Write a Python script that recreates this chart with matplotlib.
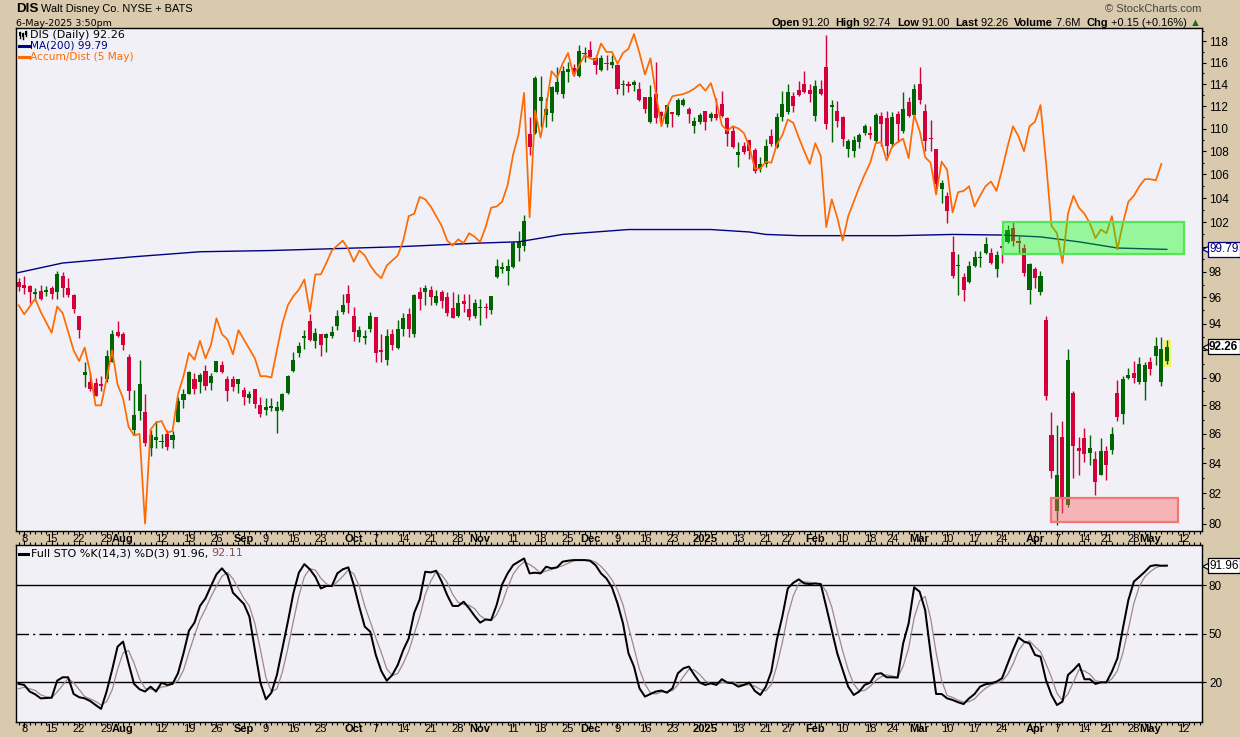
import matplotlib
matplotlib.use("Agg")
import matplotlib.pyplot as plt
from matplotlib.patches import Rectangle
from matplotlib.ticker import FixedLocator, NullFormatter, FuncFormatter
from matplotlib.transforms import blended_transform_factory

plt.rcParams['font.family'] = ['Liberation Sans', 'DejaVu Sans']

# ---- daily candles, 5-Jul-2024 .. 6-May-2025 (index = trading day) ----
opens = [
    97.2, 97.0, 96.9, 96.3, 96.5, 96.45, 96.7, 96.4, 97.7, 96.7,
    96.2, 94.6, 90.2, 89.7, 89.6, 89.5, 89.9, 91.1, 93.4, 93.2,
    91.5, 86.3, 87.6, 87.5, 85.0, 85.6, 85.45, 86.0, 85.6, 86.8,
    88.4, 88.8, 89.9, 89.7, 90.5, 89.6, 90.4, 90.9, 89.9, 89.9,
    89.5, 89.1, 88.5, 89.2, 88.0, 87.7, 87.85, 87.6, 87.7, 88.9,
    90.5, 91.8, 92.95, 94.2, 92.7, 93.2, 92.9, 93.1, 93.8, 94.9,
    96.3, 94.6, 93.0, 92.95, 93.6, 94.5, 92.0, 91.3, 93.2, 92.2,
    93.6, 94.7, 93.2, 96.4, 96.4, 96.6, 95.6, 96.4, 96.0, 95.2,
    94.6, 95.7, 95.1, 94.6, 95.15, 95.25, 95.0, 97.6, 98.2, 98.1,
    98.4, 99.9, 100.1, 109.5, 109.6, 112.5, 111.2, 111.4, 113.3, 113.1,
    115.1, 115.5, 114.8, 116.85, 117.2, 116.4, 115.3, 115.95, 115.8, 115.8,
    113.95, 114.0, 113.9, 113.6, 112.8, 110.6, 113.1, 111.5, 110.4, 111.5,
    111.2, 112.1, 111.7, 110.2, 110.6, 111.6, 110.9, 111.3, 112.2, 110.9,
    109.8, 107.7, 108.5, 109.0, 108.1, 106.5, 106.9, 109.3, 108.4, 111.0,
    111.5, 112.9, 113.5, 114.0, 113.5, 111.1, 113.6, 115.6, 111.9, 111.6,
    111.0, 108.2, 108.0, 108.8, 109.6, 109.6, 108.9, 111.1, 110.9, 108.6,
    111.3, 109.8, 112.4, 111.2, 114.0, 111.6, 109.15, 108.2, 104.8, 104.2,
    99.6, 98.45, 97.6, 97.2, 98.5, 99.1, 99.5, 99.5, 98.2, 100.1,
    100.4, 101.5, 100.5, 99.9, 96.6, 98.2, 96.4, 94.3, 85.9, 80.8,
    85.8, 81.2, 88.9, 85.0, 85.7, 84.7, 84.3, 83.2, 84.8, 84.9,
    88.9, 87.4, 90.0, 90.3, 89.7, 89.7, 91.1, 91.6, 89.7, 91.20,
]
highs = [
    97.5, 97.7, 97.0, 96.7, 97.0, 96.9, 96.9, 98.1, 98.0, 97.5,
    96.3, 94.6, 91.1, 90.3, 90.0, 90.1, 92.0, 93.5, 94.2, 93.4,
    91.7, 89.1, 91.3, 88.8, 86.3, 86.9, 86.0, 86.3, 86.2, 88.6,
    89.2, 90.5, 90.3, 90.3, 90.9, 90.3, 91.2, 91.2, 90.1, 90.1,
    89.9, 89.3, 89.0, 89.2, 88.6, 88.5, 88.5, 88.3, 88.9, 90.2,
    91.9, 92.6, 93.5, 94.7, 93.7, 93.2, 93.3, 93.8, 95.0, 96.3,
    97.0, 95.3, 93.8, 93.5, 94.9, 94.5, 93.2, 93.6, 93.6, 94.3,
    94.8, 95.2, 96.3, 96.8, 97.0, 96.9, 96.6, 96.6, 96.4, 96.4,
    96.3, 96.3, 96.3, 95.9, 95.9, 95.6, 96.1, 99.0, 98.8, 99.0,
    100.5, 101.3, 102.6, 111.0, 114.8, 114.8, 112.7, 113.8, 115.6, 115.7,
    116.1, 115.9, 117.7, 117.5, 118.0, 116.7, 116.7, 116.7, 116.7, 115.9,
    114.4, 114.3, 114.4, 114.2, 112.8, 113.9, 116.1, 111.6, 112.1, 111.5,
    112.7, 112.7, 111.9, 111.0, 111.4, 111.6, 111.5, 112.7, 113.4, 111.0,
    110.2, 108.8, 108.8, 109.0, 108.3, 107.5, 109.1, 110.0, 111.4, 113.4,
    114.0, 113.3, 114.3, 115.2, 114.0, 114.4, 114.4, 118.6, 112.6, 112.5,
    111.1, 109.1, 109.3, 109.6, 110.4, 110.2, 111.4, 111.5, 111.6, 111.5,
    111.6, 113.3, 112.8, 114.0, 115.6, 112.2, 110.8, 108.2, 105.5, 104.5,
    100.9, 99.4, 97.9, 98.9, 99.7, 99.7, 100.8, 99.9, 99.7, 100.8,
    101.8, 102.1, 100.9, 100.2, 98.7, 98.4, 98.1, 94.6, 87.5, 86.6,
    86.9, 92.1, 89.0, 85.8, 86.4, 85.9, 84.8, 85.7, 85.2, 86.5,
    89.8, 90.1, 90.7, 91.2, 91.5, 91.1, 91.5, 93.0, 93.0, 92.74,
]
lows = [
    96.5, 96.3, 95.6, 95.7, 95.8, 96.1, 95.9, 95.9, 96.0, 96.0,
    94.8, 92.9, 89.3, 89.0, 88.7, 89.0, 89.7, 91.1, 93.0, 92.0,
    88.4, 85.9, 87.0, 85.2, 84.5, 85.0, 85.0, 84.9, 85.0, 86.8,
    87.8, 88.8, 88.8, 88.9, 89.1, 89.1, 90.4, 90.3, 88.3, 89.0,
    88.9, 88.0, 88.2, 87.8, 87.2, 87.3, 87.6, 86.1, 87.6, 88.8,
    90.4, 91.5, 92.1, 92.7, 92.2, 91.6, 91.9, 92.9, 93.5, 94.7,
    94.8, 92.7, 92.6, 92.5, 93.4, 91.1, 91.1, 90.9, 92.0, 92.1,
    93.1, 93.0, 93.0, 95.0, 95.4, 95.4, 95.4, 95.2, 94.6, 94.4,
    94.5, 94.9, 94.3, 94.4, 93.9, 94.4, 94.7, 97.5, 97.9, 97.0,
    98.3, 98.9, 99.7, 107.7, 109.5, 110.1, 110.1, 110.7, 113.1, 112.7,
    114.2, 114.8, 114.7, 116.1, 116.5, 114.9, 115.2, 115.3, 115.5, 113.1,
    113.0, 113.3, 113.4, 112.5, 111.4, 110.5, 110.5, 110.4, 110.1, 110.1,
    111.1, 112.0, 110.5, 109.6, 110.4, 109.9, 110.7, 110.8, 111.0, 108.5,
    108.3, 106.6, 107.8, 107.3, 106.1, 106.2, 106.6, 108.5, 108.3, 110.7,
    111.3, 111.5, 112.9, 113.2, 112.4, 110.7, 113.0, 110.0, 108.8, 110.1,
    108.5, 107.5, 107.5, 108.3, 109.4, 109.1, 108.7, 108.5, 107.6, 108.4,
    108.8, 109.6, 111.0, 111.0, 112.2, 108.0, 108.0, 104.8, 103.6, 101.9,
    97.5, 96.2, 95.7, 97.1, 98.4, 98.4, 99.4, 98.6, 97.6, 98.7,
    100.3, 100.1, 99.4, 97.7, 95.5, 96.7, 96.2, 88.4, 83.0, 79.9,
    80.7, 81.1, 83.0, 83.2, 84.1, 83.9, 81.9, 83.2, 82.9, 84.6,
    86.9, 86.7, 89.9, 89.6, 89.5, 88.4, 90.2, 90.9, 89.4, 91.00,
]
closes = [
    96.8, 96.7, 96.4, 96.4, 95.9, 96.5, 96.3, 97.8, 96.7, 96.2,
    95.1, 93.5, 90.4, 89.2, 88.7, 89.4, 91.6, 93.2, 93.1, 92.4,
    89.0, 87.3, 89.5, 85.4, 85.9, 85.8, 85.5, 85.1, 85.9, 88.3,
    88.8, 90.4, 89.2, 90.2, 89.4, 90.1, 91.2, 90.4, 89.0, 89.3,
    89.9, 88.6, 88.8, 88.1, 87.4, 87.9, 87.9, 87.9, 88.8, 90.1,
    91.3, 92.3, 93.0, 92.8, 93.3, 92.4, 93.2, 93.4, 94.6, 95.4,
    95.6, 93.4, 93.5, 93.0, 94.6, 91.8, 91.9, 93.1, 92.4, 93.6,
    94.4, 93.6, 96.2, 95.9, 96.7, 96.0, 96.1, 95.7, 94.8, 94.4,
    95.6, 95.5, 94.5, 95.6, 95.2, 95.2, 96.1, 98.5, 98.4, 98.5,
    100.3, 100.4, 102.1, 108.4, 114.6, 112.8, 111.7, 113.7, 114.2, 115.2,
    115.4, 114.9, 117.1, 116.9, 116.5, 115.8, 116.4, 115.9, 116.1, 113.6,
    114.0, 113.8, 114.2, 112.6, 111.7, 112.8, 110.9, 111.1, 112.1, 111.3,
    112.6, 112.6, 111.3, 110.7, 111.2, 110.6, 111.3, 110.9, 111.1, 109.5,
    108.4, 107.9, 107.9, 108.0, 106.3, 106.9, 108.5, 108.6, 111.0, 112.2,
    113.3, 112.0, 113.0, 113.3, 113.1, 113.8, 113.1, 110.4, 112.1, 110.7,
    109.1, 108.9, 109.0, 109.4, 110.2, 109.4, 111.2, 110.4, 108.5, 111.0,
    110.4, 111.7, 111.1, 113.6, 112.6, 108.9, 109.1, 105.2, 105.3, 102.9,
    97.7, 98.5, 96.6, 98.5, 99.2, 99.2, 100.2, 98.7, 99.3, 99.9,
    101.4, 100.5, 100.3, 97.9, 98.6, 97.5, 97.7, 88.7, 83.5, 83.2,
    81.6, 91.3, 85.2, 84.8, 84.6, 85.0, 82.7, 84.8, 83.9, 86.0,
    87.2, 89.9, 90.2, 90.0, 91.0, 90.9, 90.6, 92.3, 92.11, 92.26,
]

# 200-day moving average, read at points along the line
ma_idx = [-0.5, 8, 21, 33, 46, 69, 84, 91, 99, 111, 126, 133, 136, 142, 160, 170, 179, 186, 193, 200, 209]
ma_val = [97.9, 98.7, 99.2, 99.6, 99.7, 100.0, 100.3, 100.4, 101.0, 101.4, 101.4, 101.2, 101.0, 100.9,
          100.9, 101.0, 100.95, 100.8, 100.4, 99.9, 99.79]

# Accumulation/Distribution overlay (read in price-axis units)
ad_idx = [0, 1, 3, 4, 6, 7, 8] + list(range(10, 209))
ad_val = [
    95.4, 94.7, 95.9, 94.9, 93.3, 95.3, 94.8,
    92.0, 91.2, 92.2, 90.4, 88.0, 88.0, 89.9, 92.0, 89.5, 88.5,
    86.5, 85.9, 86.0, 80.0, 86.3, 86.8, 86.9, 86.1, 86.2, 88.8,
    90.1, 91.8, 91.3, 92.7, 91.4, 92.4, 94.4, 93.2, 92.8, 91.7,
    93.5, 92.8, 92.1, 91.4, 90.1, 90.1, 90.0, 92.0, 94.0, 95.4,
    96.1, 96.6, 97.4, 94.9, 97.8, 97.8, 98.7, 99.7, 100.1, 100.5,
    99.8, 98.8, 99.7, 99.3, 98.5, 97.9, 97.5, 98.5, 98.9, 99.3,
    100.5, 102.5, 102.7, 104.1, 103.9, 103.3, 102.5, 101.7, 100.5, 100.1,
    100.6, 100.3, 101.1, 100.8, 100.4, 101.6, 103.2, 103.3, 103.7, 105.1,
    107.7, 109.5, 113.2, 102.4, 111.6, 109.2, 111.9, 115.2, 114.6, 115.9,
    116.9, 114.8, 115.7, 116.7, 116.4, 116.2, 117.8, 117.0, 117.0, 115.9,
    116.9, 117.3, 118.7, 116.9, 114.9, 116.4, 113.1, 110.2, 111.9, 112.9,
    113.0, 113.1, 113.3, 113.6, 114.0, 113.4, 114.1, 112.4, 110.3, 109.8,
    110.2, 110.0, 109.6, 108.4, 106.5, 106.5, 107.1, 107.0, 108.6, 109.4,
    110.8, 110.5, 109.2, 108.0, 106.9, 108.7, 107.6, 101.6, 103.9, 102.4,
    100.5, 102.5, 103.7, 104.9, 106.0, 107.0, 108.7, 108.8, 107.2, 108.4,
    108.8, 109.1, 107.4, 111.2, 109.8, 107.5, 107.0, 104.3, 107.1, 106.4,
    102.8, 104.5, 104.6, 105.0, 103.3, 104.2, 105.0, 105.4, 104.6, 106.4,
    108.4, 110.2, 109.3, 108.0, 110.2, 110.6, 112.1, 107.1, 101.7, 101.1,
    98.7, 102.7, 104.2, 103.2, 102.7, 101.9, 100.7, 101.4, 101.1, 102.5,
    99.8, 101.9, 103.7, 104.2, 105.0, 105.6, 105.6, 105.5, 106.9,
]

# Full stochastics %K(14,3) and %D(3)
sto_k = [
    19.0, 18.4, 14.3, 12.6, 10.1, 10.3, 10.5, 21.0, 23.1, 23.1,
    12.8, 10.8, 10.1, 8.5, 6.0, 3.6, 14.3, 27.6, 42.0, 45.1,
    31.7, 19.0, 15.7, 14.3, 17.3, 14.3, 19.8, 18.4, 19.0, 25.6,
    37.9, 51.9, 56.8, 67.1, 71.8, 79.4, 86.6, 90.3, 86.2, 75.3,
    71.8, 68.3, 60.5, 39.9, 19.8, 9.5, 13.6, 24.5, 41.0, 57.4,
    74.9, 87.6, 92.9, 89.7, 85.1, 77.9, 79.4, 79.4, 87.2, 89.7,
    90.9, 80.0, 66.6, 54.3, 51.2, 36.9, 27.0, 21.0, 24.5, 30.7,
    39.9, 47.1, 62.9, 71.2, 88.2, 87.8, 88.8, 82.1, 73.8, 67.1,
    67.1, 69.7, 65.6, 60.9, 56.8, 58.8, 58.4, 67.7, 80.4, 87.2,
    92.3, 94.4, 96.4, 87.2, 87.6, 87.2, 91.3, 90.3, 90.9, 94.4,
    95.0, 95.4, 95.4, 95.4, 95.0, 92.3, 87.2, 84.0, 78.5, 68.7,
    56.4, 37.9, 29.7, 16.3, 11.2, 12.8, 14.3, 14.9, 13.6, 16.3,
    25.6, 28.6, 29.7, 24.5, 19.8, 18.4, 19.4, 18.4, 21.9, 19.8,
    19.4, 17.3, 18.4, 19.8, 14.7, 12.2, 17.3, 26.6, 46.1, 60.5,
    77.9, 81.4, 83.5, 81.0, 80.6, 81.0, 80.6, 66.6, 52.3, 37.9,
    27.6, 17.3, 12.2, 14.3, 18.4, 19.8, 25.1, 25.6, 23.1, 23.1,
    22.9, 44.0, 56.4, 78.6, 75.9, 64.6, 37.9, 12.8, 12.8, 10.1,
    9.1, 7.7, 6.6, 10.1, 12.8, 17.3, 18.8, 19.4, 20.4, 22.5,
    31.3, 39.9, 47.7, 45.1, 44.0, 36.9, 35.8, 21.4, 12.2, 6.0,
    8.1, 24.5, 27.6, 31.3, 21.9, 21.9, 19.0, 20.0, 20.0, 26.6,
    34.8, 53.3, 70.8, 82.1, 85.1, 88.2, 91.7, 92.3, 91.9, 91.96,
]
sto_d = [
    16.0, 17.0, 16.0, 15.0, 12.3, 11.1, 10.4, 14.0, 18.2, 22.4,
    19.7, 15.6, 11.2, 9.8, 8.2, 6.0, 8.0, 15.2, 28.0, 38.2,
    39.6, 31.9, 22.1, 16.3, 15.8, 15.3, 17.1, 17.5, 19.1, 21.0,
    27.5, 38.5, 48.9, 58.6, 65.2, 72.8, 79.3, 85.4, 87.7, 83.9,
    77.8, 71.8, 66.9, 56.2, 40.1, 23.1, 14.3, 15.9, 26.4, 41.0,
    57.8, 73.3, 85.1, 90.1, 89.2, 84.2, 80.8, 78.9, 82.0, 85.4,
    89.3, 86.9, 79.2, 67.0, 57.4, 47.5, 38.4, 28.3, 24.2, 25.4,
    31.7, 39.2, 50.0, 60.4, 74.1, 82.4, 88.3, 86.2, 81.6, 74.3,
    69.3, 68.0, 67.5, 65.4, 61.1, 58.8, 58.0, 61.6, 68.8, 78.4,
    86.6, 91.3, 94.4, 92.7, 90.4, 87.3, 88.7, 89.6, 90.8, 91.9,
    93.4, 94.9, 95.3, 95.4, 95.3, 94.2, 91.5, 87.8, 83.2, 77.1,
    67.9, 54.3, 41.3, 28.0, 19.1, 13.4, 12.8, 14.0, 14.3, 14.9,
    18.5, 23.5, 28.0, 27.6, 24.7, 20.9, 19.2, 18.7, 19.9, 20.0,
    20.4, 18.8, 18.4, 18.5, 17.6, 15.6, 14.7, 18.7, 30.0, 44.4,
    61.5, 73.3, 80.9, 82.0, 81.7, 80.9, 80.7, 76.1, 66.5, 52.3,
    39.3, 27.6, 19.0, 14.6, 15.0, 17.5, 21.1, 23.5, 24.6, 23.9,
    23.0, 30.0, 41.1, 59.7, 70.3, 73.0, 59.5, 38.4, 21.2, 11.9,
    10.7, 9.0, 7.8, 8.1, 9.8, 13.4, 16.3, 18.5, 19.5, 20.8,
    24.7, 31.2, 39.6, 44.2, 45.6, 42.0, 38.9, 31.4, 23.1, 13.2,
    8.8, 12.9, 20.1, 27.8, 27.0, 25.0, 21.0, 20.3, 19.7, 22.2,
    27.1, 38.2, 53.0, 68.7, 79.3, 85.1, 88.3, 90.7, 92.0, 92.11,
]

# date axis labels and the trading-day index they sit on
date_labels = ["8", "15", "22", "29", "Aug", "12", "19", "26", "Sep", "9", "16", "23", "Oct", "7", "14",
               "21", "28", "Nov", "11", "18", "25", "Dec", "9", "16", "23", "2025", "13", "21", "27",
               "Feb", "10", "18", "24", "Mar", "10", "17", "24", "Apr", "7", "14", "21", "28", "May", "12"]
date_pos = [1, 6, 11, 16, 19, 26, 31, 36, 41, 45, 50, 55, 61, 65, 70, 75, 80, 84, 90, 95, 100, 104,
            109, 114, 119, 125, 131, 136, 140, 145, 150, 155, 159, 164, 169, 174, 179, 185, 189, 194,
            198, 203, 206, 212]

price_ticks = list(range(80, 119, 2))
sto_levels = [20, 50, 80]

# annotation boxes drawn on the chart (index span, price span)
green_box = (179.1, 212.1, 99.45, 102.0)
red_box = (188.0, 211.1, 80.1, 81.7)

BG = '#d9c9ad'
PANEL = '#f0f0f6'
UP = '#006400'
DOWN = '#d4003a'
NAVY = '#000080'
ORANGE = '#ff6a00'

W, H = 1240, 737
fig = plt.figure(figsize=(W / 100, H / 100), dpi=100)
fig.patch.set_facecolor(BG)


def fx(px):
    return px / W


def fy(py):
    return 1 - py / H


ax = fig.add_axes([fx(16), fy(531), fx(1202) - fx(16), fy(28) - fy(531)])
ax_sto = fig.add_axes([fx(16), fy(721.7), fx(1202) - fx(16), fy(545) - fy(721.7)])

for a in (ax, ax_sto):
    a.set_facecolor(PANEL)
    for s in a.spines.values():
        s.set_color('black')
        s.set_linewidth(1.0)
    a.set_xlim(-0.49, 215.4)
    a.xaxis.set_major_locator(FixedLocator(date_pos))
    a.xaxis.set_minor_locator(FixedLocator(list(range(0, 216))))
    a.xaxis.set_major_formatter(NullFormatter())

# ---- candles ----
idx = list(range(len(closes)))
cols = [UP if c >= o else DOWN for o, c in zip(opens, closes)]
bottoms = [min(o, c) for o, c in zip(opens, closes)]
heights = [max(abs(c - o), 0.09) for o, c in zip(opens, closes)]

last = idx[-1]
ax.add_patch(Rectangle((last - 0.76, 90.8), 1.52, 92.75 - 90.8, facecolor='#f3f36c',
                       edgecolor='none', zorder=1.5))
ax.vlines(idx, lows, highs, colors=cols, linewidth=1.0, zorder=2)
ax.bar(idx, heights, bottom=bottoms, width=0.74, color=cols, linewidth=0, zorder=3)

ax.plot(ma_idx, ma_val, color=NAVY, linewidth=1.0, zorder=4)
ax.plot(ad_idx, ad_val, color=ORANGE, linewidth=1.25, zorder=4)

for (x0, x1, y0, y1), fc, ec in [(green_box, (0.0, 1.0, 0.0, 0.37), (0.33, 0.9, 0.33)),
                                 (red_box, (1.0, 0.39, 0.39, 0.42), (0.94, 0.47, 0.47))]:
    ax.add_patch(Rectangle((x0, y0), x1 - x0, y1 - y0, facecolor=fc, edgecolor=ec,
                           linewidth=1.6, zorder=5))

ax.set_yscale('log')
ax.set_ylim(79.53, 119.28)
ax.yaxis.set_major_locator(FixedLocator(price_ticks))
ax.yaxis.set_major_formatter(FuncFormatter(lambda v, p: f"{v:.0f}"))
ax.yaxis.set_minor_locator(FixedLocator(list(range(80, 120))))
ax.yaxis.set_minor_formatter(NullFormatter())
ax.yaxis.tick_right()
ax.tick_params(axis='y', which='major', length=3, width=0.8, labelsize=8.5, pad=2)
ax.tick_params(axis='y', which='minor', length=1.5, width=0.8)
ax.tick_params(axis='x', which='major', direction='out', length=3.5, width=0.8)
ax.tick_params(axis='x', which='minor', direction='out', length=2.5, width=0.8)

# ---- stochastics ----
ax_sto.plot(idx, sto_d, color='#a08888', linewidth=0.9, zorder=3)
ax_sto.plot(idx, sto_k, color='black', linewidth=1.45, zorder=4)
ax_sto.axhline(80, color='black', linewidth=1.0, zorder=2)
ax_sto.axhline(20, color='black', linewidth=1.0, zorder=2)
ax_sto.axhline(50, color='black', linewidth=1.0, linestyle=(0, (9, 3, 1.5, 3)), zorder=2)
ax_sto.set_ylim(-4.3, 104.7)
ax_sto.yaxis.set_major_locator(FixedLocator(sto_levels))
ax_sto.yaxis.set_major_formatter(FuncFormatter(lambda v, p: f"{v:.0f}"))
ax_sto.yaxis.tick_right()
ax_sto.tick_params(axis='y', length=3, width=0.8, labelsize=8.5, pad=2)
ax_sto.tick_params(axis='x', which='both', top=True, bottom=True, direction='out', width=0.8)
ax_sto.tick_params(axis='x', which='major', length=3.5)
ax_sto.tick_params(axis='x', which='minor', length=2.5)

# ---- date labels (between the panels and below the bottom one) ----
for a, ypix in ((ax, 538.5), (ax_sto, 729.5)):
    tr = blended_transform_factory(a.transData, fig.transFigure)
    for lab, pos in zip(date_labels, date_pos):
        bold = not lab.isdigit() or lab == "2025"
        a.text(pos, fy(ypix), lab, transform=tr, ha='center', va='center', fontsize=8,
               fontweight='bold' if bold else 'normal', clip_on=False)

# ---- value tags on the right axis ----
def tag(a, val, txt, color, bold=False):
    ytr = a.get_yaxis_transform()
    a.plot([1.0035], [val], marker='<', markersize=6, markerfacecolor='white',
           markeredgecolor=color, markeredgewidth=0.9, transform=ytr, clip_on=False, zorder=10)
    a.text(1.006, val, txt, transform=ytr, ha='left', va='center', fontsize=8.5, color=color,
           fontweight='bold' if bold else 'normal', clip_on=False, zorder=11,
           bbox=dict(boxstyle='square,pad=0.12', facecolor='white', edgecolor=color, linewidth=0.9))


tag(ax, 99.79, "99.79", NAVY)
tag(ax, closes[-1], f"{closes[-1]:.2f}", 'black', bold=True)
tag(ax_sto, sto_k[-1], f"{sto_k[-1]:.2f}", 'black')

# ---- header ----
renderer = fig.canvas.get_renderer()


def run(x, y, pieces, size=8, family=None, align='left'):
    texts = []
    for s, weight, color in pieces:
        kw = dict(fontsize=size, fontweight=weight, color=color, va='center', ha='left')
        if family:
            kw['family'] = family
        texts.append(fig.text(0, fy(y), s, **kw))
    widths = [t.get_window_extent(renderer=renderer).width for t in texts]
    if align == 'right':
        x -= sum(widths)
    for t, w in zip(texts, widths):
        t.set_x(fx(x))
        x += w
    return x


run(16, 9, [("DIS", 'bold', 'black')], size=9.6)
run(41, 9.5, [("Walt Disney Co. NYSE + BATS", 'normal', 'black')], size=7.9)
fig.text(fx(16), fy(23), "6-May-2025 3:50pm", fontsize=6.8, va='center', family=['DejaVu Sans'])
fig.text(fx(1201), fy(9.5), "\u00a9 StockCharts.com", fontsize=8, ha='right', va='center', color='#444444')
run(1201, 22.5, [("Open", 'bold', 'black'), (" 91.20  ", 'normal', 'black'),
                 ("High", 'bold', 'black'), (" 92.74  ", 'normal', 'black'),
                 ("Low", 'bold', 'black'), (" 91.00  ", 'normal', 'black'),
                 ("Last", 'bold', 'black'), (" 92.26  ", 'normal', 'black'),
                 ("Volume", 'bold', 'black'), (" 7.6M  ", 'normal', 'black'),
                 ("Chg", 'bold', 'black'), (" +0.15 (+0.16%) ", 'normal', 'black'),
                 ("\u25b2", 'normal', '#1a6a1a')], size=7.9, align='right')

# legend inside the price panel
for x0, h0, h1 in ((20, 31.5, 37.5), (23, 32.5, 38.5), (26, 31, 36)):
    fig.add_artist(plt.Line2D([fx(x0), fx(x0)], [fy(h1), fy(h0)], color='black', linewidth=1.0))
    fig.add_artist(Rectangle((fx(x0 - 1), fy(h1 - 1.5)), 2 / W, 3.5 / H, facecolor='black',
                             edgecolor='none', transform=fig.transFigure))
leg_font = ['DejaVu Sans']
fig.text(fx(30.5), fy(35), "DIS (Daily) 92.26", fontsize=8.0, va='center', family=leg_font)
for ypix, txt, col in ((46, "MA(200) 99.79", NAVY), (57, "Accum/Dist (5 May)", ORANGE)):
    fig.add_artist(plt.Line2D([fx(19), fx(28.5)], [fy(ypix), fy(ypix)], color=col, linewidth=2.2))
    fig.text(fx(30.5), fy(ypix), txt, fontsize=7.6, va='center', color=col, family=leg_font)

fig.add_artist(plt.Line2D([fx(19), fx(28)], [fy(553.5), fy(553.5)], color='black', linewidth=2.2))
run(31, 553.5, [("Full STO %K(14,3) %D(3) 91.96, ", 'normal', 'black'),
                ("92.11", 'normal', '#8a5050')], size=8.0, family=leg_font)

fig.savefig("out.png", dpi=100, facecolor=BG)
